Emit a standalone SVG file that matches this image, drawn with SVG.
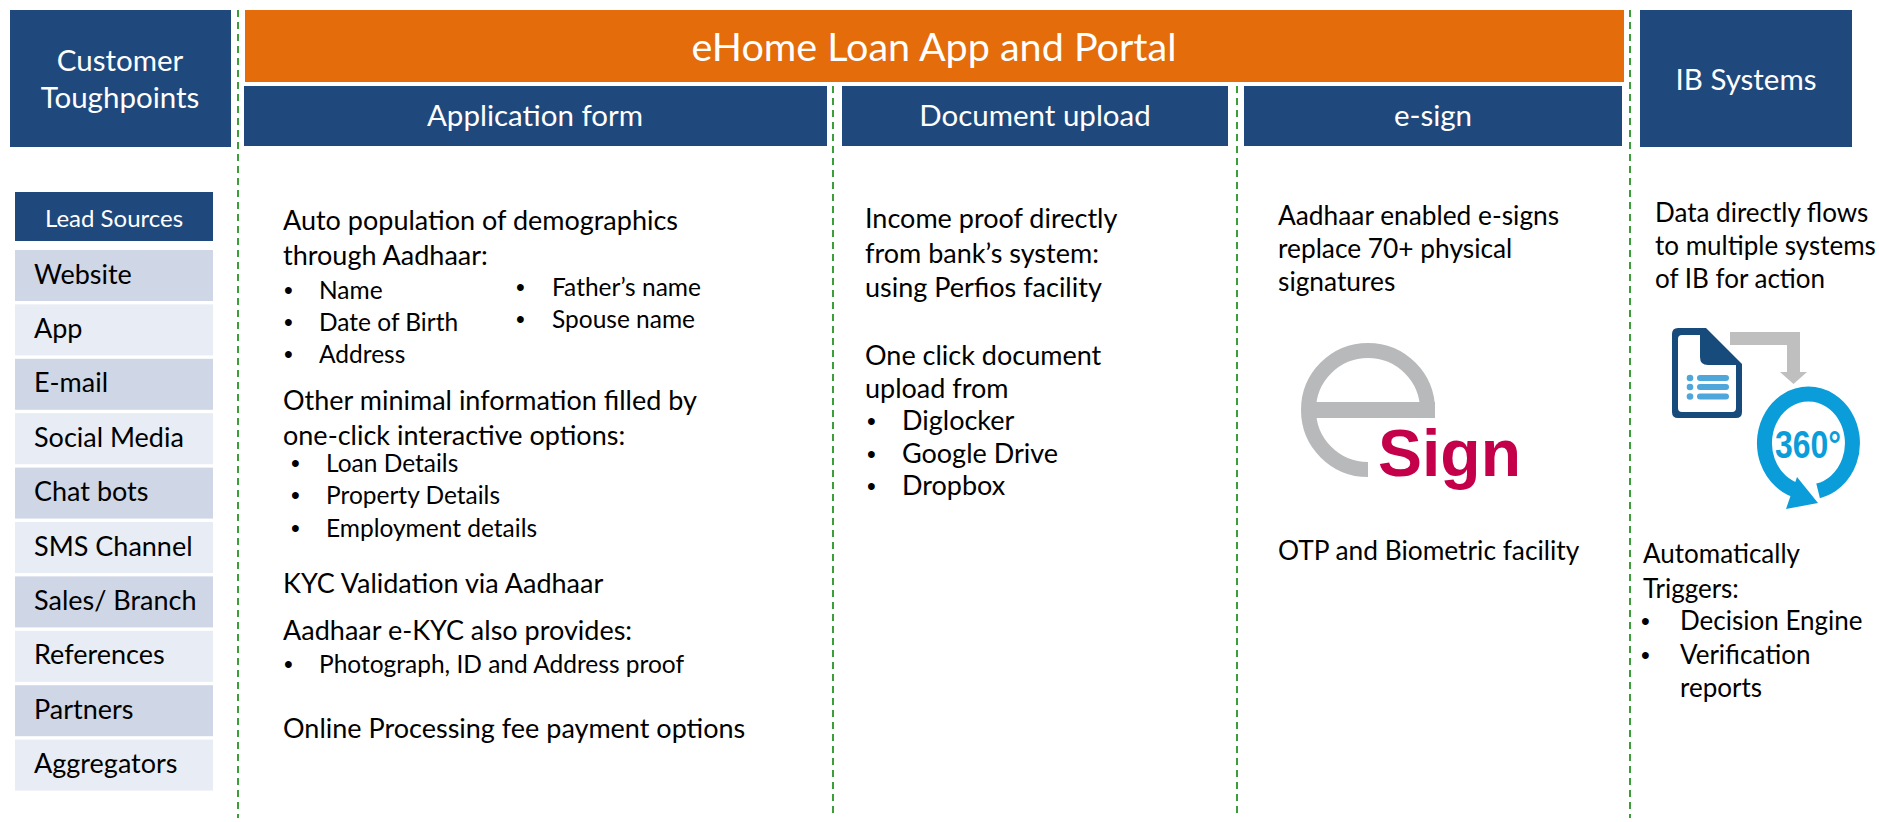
<svg xmlns="http://www.w3.org/2000/svg" width="1879" height="822" viewBox="0 0 1879 822">
<style>
  .hdr { fill: #1F497D; }
  .htxt { font-family: Lato, "Liberation Sans", sans-serif; font-size: 29.5px; fill: #FFFFFF; text-anchor: middle; }
  .title { font-family: Lato, "Liberation Sans", sans-serif; font-size: 39.5px; fill: #FFFFFF; text-anchor: middle; }
  .t { font-family: Lato, "Liberation Sans", sans-serif; font-size: 27px; fill: #000000; }
  .te { font-family: Lato, "Liberation Sans", sans-serif; font-size: 26.3px; fill: #000000; }
  .ti { font-family: Lato, "Liberation Sans", sans-serif; font-size: 26px; fill: #000000; }
  .b { font-family: Lato, "Liberation Sans", sans-serif; font-size: 24.5px; fill: #000000; }
  .bu { font-family: "Liberation Sans", Arial, sans-serif; font-size: 25px; fill: #000000; }
  .rowd { fill: #CFD6E6; }
  .rowl { fill: #E8ECF4; }
  .rtxt { font-family: Lato, "Liberation Sans", sans-serif; font-size: 27px; fill: #000000; }
  .ltxt { font-family: Lato, "Liberation Sans", sans-serif; font-size: 24px; fill: #FFFFFF; text-anchor: middle; }
  .div { stroke: #3A9E3A; stroke-width: 2; stroke-dasharray: 7 5; fill: none; }
</style>
<rect x="0" y="0" width="1879" height="822" fill="#FFFFFF"/>

<g id="dividers">
  <line class="div" x1="238" y1="10" x2="238" y2="818"/>
  <line class="div" x1="833" y1="86" x2="833" y2="818"/>
  <line class="div" x1="1237" y1="86" x2="1237" y2="818"/>
  <line class="div" x1="1630" y1="10" x2="1630" y2="818"/>
</g>

<g id="customer-touchpoints">
  <rect class="hdr" x="10" y="10" width="221" height="137"/>
  <text class="htxt" x="120" y="71">Customer</text>
  <text class="htxt" x="120" y="108">Toughpoints</text>
</g>

<g id="ehome-title">
  <rect x="245" y="10" width="1379" height="72" fill="#E46C0A"/>
  <text class="title" x="934" y="61">eHome Loan App and Portal</text>
</g>

<g id="application-form-header">
  <rect class="hdr" x="244" y="86" width="583" height="60"/>
  <text class="htxt" x="535" y="126">Application form</text>
</g>
<g id="document-upload-header">
  <rect class="hdr" x="842" y="86" width="386" height="60"/>
  <text class="htxt" x="1035" y="126">Document upload</text>
</g>
<g id="esign-header">
  <rect class="hdr" x="1244" y="86" width="378" height="60"/>
  <text class="htxt" x="1433" y="126">e-sign</text>
</g>
<g id="ib-systems">
  <rect class="hdr" x="1640" y="10" width="212" height="137"/>
  <text class="htxt" x="1746" y="90">IB Systems</text>
</g>

<g id="lead-sources">
  <rect class="hdr" x="15" y="192" width="198" height="49"/>
  <text class="ltxt" x="114" y="227">Lead Sources</text>
  <rect class="rowd" x="15" y="250" width="198" height="51"/>
  <text class="rtxt" x="34" y="283.5">Website</text>
  <rect class="rowl" x="15" y="304.4" width="198" height="51"/>
  <text class="rtxt" x="34" y="337.9">App</text>
  <rect class="rowd" x="15" y="358.8" width="198" height="51"/>
  <text class="rtxt" x="34" y="392.3">E-mail</text>
  <rect class="rowl" x="15" y="413.2" width="198" height="51"/>
  <text class="rtxt" x="34" y="446.7">Social Media</text>
  <rect class="rowd" x="15" y="467.6" width="198" height="51"/>
  <text class="rtxt" x="34" y="501.1">Chat bots</text>
  <rect class="rowl" x="15" y="522" width="198" height="51"/>
  <text class="rtxt" x="34" y="555.5">SMS Channel</text>
  <rect class="rowd" x="15" y="576.4" width="198" height="51"/>
  <text class="rtxt" x="34" y="609.9">Sales/ Branch</text>
  <rect class="rowl" x="15" y="630.8" width="198" height="51"/>
  <text class="rtxt" x="34" y="664.3">References</text>
  <rect class="rowd" x="15" y="685.2" width="198" height="51"/>
  <text class="rtxt" x="34" y="718.7">Partners</text>
  <rect class="rowl" x="15" y="739.6" width="198" height="51"/>
  <text class="rtxt" x="34" y="773.1">Aggregators</text>
</g>

<g id="application-form-content">
  <text class="t" x="283" y="230">Auto population of demographics</text>
  <text class="t" x="283" y="265">through Aadhaar:</text>
  <text class="bu" x="284" y="299">•</text><text class="b" x="319" y="299">Name</text>
  <text class="bu" x="284" y="331">•</text><text class="b" x="319" y="331">Date of Birth</text>
  <text class="bu" x="284" y="363">•</text><text class="b" x="319" y="363">Address</text>
  <text class="bu" x="516" y="296">•</text><text class="b" x="552" y="296">Father’s name</text>
  <text class="bu" x="516" y="328">•</text><text class="b" x="552" y="328">Spouse name</text>
  <text class="t" x="283" y="410">Other minimal information filled by</text>
  <text class="t" x="283" y="445">one-click interactive options:</text>
  <text class="bu" x="291" y="472">•</text><text class="b" x="326" y="472">Loan Details</text>
  <text class="bu" x="291" y="504">•</text><text class="b" x="326" y="504">Property Details</text>
  <text class="bu" x="291" y="537">•</text><text class="b" x="326" y="537">Employment details</text>
  <text class="t" x="283" y="593">KYC Validation via Aadhaar</text>
  <text class="t" x="283" y="640">Aadhaar e-KYC also provides:</text>
  <text class="bu" x="284" y="673">•</text><text class="b" x="319" y="673">Photograph, ID and Address proof</text>
  <text class="t" x="283" y="738">Online Processing fee payment options</text>
</g>

<g id="document-upload-content">
  <text class="t" x="865" y="228">Income proof directly</text>
  <text class="t" x="865" y="263">from bank’s system:</text>
  <text class="t" x="865" y="297">using Perfios facility</text>
  <text class="t" x="865" y="365">One click document</text>
  <text class="t" x="865" y="398">upload from</text>
  <text class="bu" x="867" y="430">•</text><text class="t" x="902" y="430">Diglocker</text>
  <text class="bu" x="867" y="463">•</text><text class="t" x="902" y="463">Google Drive</text>
  <text class="bu" x="867" y="495">•</text><text class="t" x="902" y="495">Dropbox</text>
</g>

<g id="esign-content">
  <text class="te" x="1278" y="225">Aadhaar enabled e-signs</text>
  <text class="te" x="1278" y="258">replace 70+ physical</text>
  <text class="te" x="1278" y="291">signatures</text>
  <g id="esign-logo">
    <path d="M1427.5,410 A59.5,59.5 0 1 0 1368,469.5" fill="none" stroke="#B8B9BB" stroke-width="15"/>
    <rect x="1316" y="402" width="119" height="16" fill="#B8B9BB"/>
    <text x="1378" y="476" font-family="'Liberation Sans', Arial, sans-serif" font-weight="bold" font-size="66" fill="#C4004B">Sign</text>
  </g>
  <text class="te" x="1278" y="560">OTP and Biometric facility</text>
</g>

<g id="ib-content">
  <text class="ti" x="1655" y="222">Data directly flows</text>
  <text class="ti" x="1655" y="255">to multiple systems</text>
  <text class="ti" x="1655" y="288">of IB for action</text>
  <g id="ib-icon">
    <path d="M1678,328 H1706 L1742,364 V412 Q1742,418 1736,418 H1678 Q1672,418 1672,412 V334 Q1672,328 1678,328 Z" fill="#164B7B"/>
    <path d="M1682,335 H1700 V357 Q1700,365 1708,365 H1736 V408 Q1736,412 1732,412 H1682 Q1678,412 1678,408 V339 Q1678,335 1682,335 Z" fill="#FFFFFF"/>
    <circle cx="1690" cy="378" r="3.3" fill="#4FA6DA"/>
    <circle cx="1690" cy="387" r="3.3" fill="#4FA6DA"/>
    <circle cx="1690" cy="396.5" r="3.3" fill="#4FA6DA"/>
    <rect x="1697" y="375" width="32" height="6" rx="3" fill="#4FA6DA"/>
    <rect x="1697" y="384" width="32" height="6" rx="3" fill="#4FA6DA"/>
    <rect x="1697" y="393.5" width="32" height="6" rx="3" fill="#4FA6DA"/>
    <path d="M1730,332 H1800 V372 H1807 L1793.5,384 L1780,372 H1787 V345 H1730 Z" fill="#BFBFBF"/>
    <path d="M1818.1,490.9 A44,49 0 1 0 1798.8,490.9" fill="none" stroke="#0B9DD9" stroke-width="15"/>
    <polygon points="1797,477 1786,509 1818,503" fill="#0B9DD9"/>
    <text x="1808" y="458" font-family="'Liberation Sans', Arial, sans-serif" font-weight="bold" font-size="39" fill="#0B9DD9" text-anchor="middle" textLength="66" lengthAdjust="spacingAndGlyphs">360°</text>
  </g>
  <text class="ti" x="1643" y="563">Automatically</text>
  <text class="ti" x="1643" y="598">Triggers:</text>
  <text class="bu" x="1641" y="630">•</text><text class="ti" x="1680" y="630">Decision Engine</text>
  <text class="bu" x="1641" y="664">•</text><text class="ti" x="1680" y="664">Verification</text>
  <text class="ti" x="1680" y="697">reports</text>
</g>
</svg>
